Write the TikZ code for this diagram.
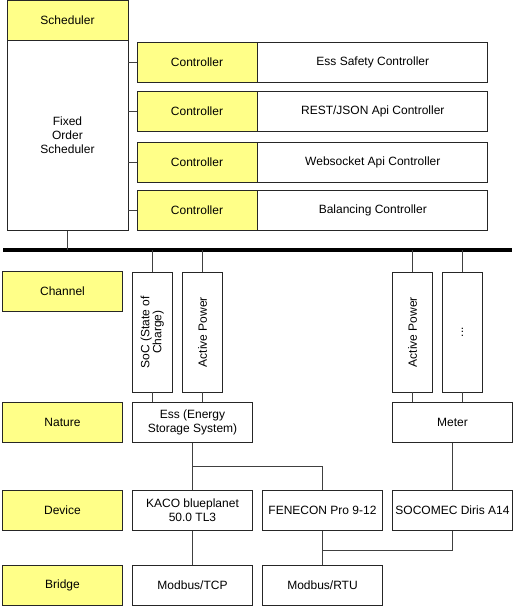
\documentclass[tikz,border=0pt]{standalone}
\usepackage{fontspec}
\setmainfont{Liberation Sans}
\usetikzlibrary{calc}
\definecolor{noteyellow}{HTML}{FFFF88}
\tikzset{
  box/.style={draw=black!85, line width=0.8pt, fill=white, inner sep=2pt, align=center,
    font=\fontsize{12}{14}\selectfont, minimum width=120pt, minimum height=40pt},
  layer/.style={box, fill=noteyellow},
  chan/.style={box, minimum width=40pt, minimum height=120pt},
  wire/.style={draw=black!75, line width=0.8pt},
}

\begin{document}
\begin{tikzpicture}[x=1pt,y=-1pt]
\useasboundingbox (0,0) rectangle (515,606);
% Scheduler
\node[layer, minimum width=121pt] (sched) at (67.5,20.5) {Scheduler};
\node[box, minimum width=121pt, minimum height=190pt] (fos) at (67.5,135.5) {Fixed\\Order\\Scheduler};
% Controllers
\foreach \i/\y/\name in {1/62/Ess Safety Controller,2/111/{REST/JSON Api Controller},3/162/Websocket Api Controller,4/210/Balancing Controller} {
  \node[layer] (ctl\i) at (197,\y) {Controller};
  \node[box, minimum width=230pt, anchor=west] (ctlname\i) at (ctl\i.east) {\name};
  \draw[wire] (fos.east |- ctl\i) -- (ctl\i.west);
}
% Bus
\coordinate (busL) at (3,250);
\coordinate (busR) at (512,250);
\draw[line width=4pt] (busL) -- (busR);
\draw[wire] (fos.south) -- (fos.south |- busL);
% Layer labels
\node[layer] (lchannel) at (62.5,291.5) {Channel};
\node[layer] (lnature) at (62.5,422.5) {Nature};
\node[layer] (ldevice) at (62.5,510) {Device};
\node[layer] (lbridge) at (62.5,585) {Bridge};
% Channels
\node[chan] (soc) at (152.5,332) {\rotatebox{90}{\begin{tabular}{@{}c@{}}SoC (State of\\[-2pt]Charge)\end{tabular}}};
\node[chan] (essap) at (202.5,332) {\rotatebox{90}{Active Power}};
\node[chan] (meterap) at (412.5,332) {\rotatebox{90}{Active Power}};
\node[chan] (more) at (462.5,332) {\rotatebox{90}{...}};
\foreach \c in {soc,essap,meterap,more}
  \draw[wire] (\c.north) -- (\c.north |- busL);
% Natures
\node[box] (ess) at (192.5,422.5) {Ess (Energy\\Storage System)};
\node[box] (meter) at (452.5,422.5) {Meter};
\draw[wire] (soc.south) -- (soc.south |- ess.north);
\draw[wire] (essap.south) -- (essap.south |- ess.north);
\draw[wire] (meterap.south) -- (meterap.south |- meter.north);
\draw[wire] (more.south) -- (more.south |- meter.north);
% Devices
\node[box] (kaco) at (192.5,510.5) {KACO blueplanet\\50.0 TL3};
\node[box] (fenecon) at (322.5,510.5) {FENECON Pro 9-12};
\node[box] (socomec) at (452.5,510.5) {SOCOMEC Diris A14};
\draw[wire] (ess.south) -- (kaco.north);
\draw[wire] ($(ess.south)!0.5!(kaco.north)$) -| (fenecon.north);
\draw[wire] (meter.south) -- (socomec.north);
% Bridges
\node[box] (tcp) at (192.5,585.5) {Modbus/TCP};
\node[box] (rtu) at (322.5,585.5) {Modbus/RTU};
\draw[wire] (kaco.south) -- (tcp.north);
\draw[wire] (fenecon.south) -- (rtu.north);
\draw[wire] (socomec.south) |- ($(fenecon.south)!0.57!(rtu.north)$);
\end{tikzpicture}
\end{document}
